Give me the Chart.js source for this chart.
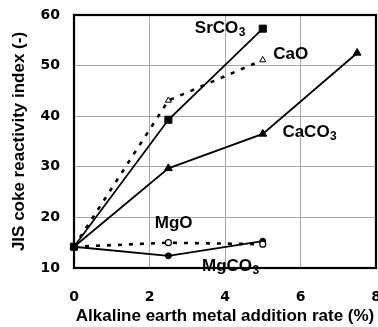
<!DOCTYPE html>
<html>
<head>
<meta charset="utf-8">
<script src="https://cdn.jsdelivr.net/npm/chart.js@4/dist/chart.umd.min.js"></script>
<style>
  html, body { margin: 0; padding: 0; background: #fff; overflow: hidden; }
  #wrap { width: 378px; height: 327px; overflow: hidden; }
  #c { display: block; }
</style>
</head>
<body>
<div id="wrap"><canvas id="c" width="382" height="327"></canvas></div>
<script>
// ---- data ----
const additionRate = [0, 2.5, 5, 7.5];
const srco3 = [14.2, 39.3, 57.3];
const cao = [14.2, 43.1, 51.1];
const caco3 = [14.2, 29.7, 36.5, 52.5];
const mgo = [14.2, 15.0, 14.7];
const mgco3 = [14.2, 12.4, 15.3];
const xTicks = [0, 2, 4, 6, 8];
const yTicks = [10, 20, 30, 40, 50, 60];

// series name labels (main text, subscript, anchor in data units)
const labelMain = ['SrCO', 'CaO', 'CaCO', 'MgO', 'MgCO'];
const labelSub = ['3', '', '3', '', '3'];
const labelAtX = [3.2, 5.28, 5.52, 2.14, 3.39];
const labelAtY = [56.4, 51.3, 35.85, 17.85, 9.4];

const pts = arr => arr.map((v, i) => ({ x: additionRate[i], y: v }));

const frame = {
  id: 'frame',
  beforeDatasetsDraw(chart) {
    const a = chart.chartArea, ctx = chart.ctx;
    ctx.save();
    ctx.strokeStyle = '#000';
    ctx.lineWidth = 2.2;
    ctx.strokeRect(a.left, a.top, a.right - a.left, a.bottom - a.top);
    ctx.restore();
  }
};

const names = {
  id: 'names',
  afterDatasetsDraw(chart) {
    const ctx = chart.ctx, xs = chart.scales.x, ys = chart.scales.y;
    ctx.save();
    ctx.fillStyle = '#000';
    ctx.textBaseline = 'alphabetic';
    ctx.textAlign = 'left';
    for (let i = 0; i < labelMain.length; i++) {
      const px = xs.getPixelForValue(labelAtX[i]);
      const py = ys.getPixelForValue(labelAtY[i]);
      ctx.font = 'bold 17px "Liberation Sans", Arial, sans-serif';
      ctx.fillText(labelMain[i], px, py);
      const w = ctx.measureText(labelMain[i]).width;
      if (labelSub[i]) {
        ctx.font = 'bold 12px "Liberation Sans", Arial, sans-serif';
        ctx.fillText(labelSub[i], px + w + 0.5, py + 3);
      }
    }
    ctx.restore();
  }
};

const common = { borderColor: '#000', pointBorderColor: '#000', clip: false, tension: 0 };

new Chart(document.getElementById('c'), {
  type: 'scatter',
  data: {
    datasets: [
      Object.assign({}, common, { label: 'CaCO3', data: pts(caco3), showLine: true, borderWidth: 1.8,
        pointStyle: 'triangle', pointRadius: 4.5, pointBackgroundColor: '#000', pointBorderWidth: 1 }),
      Object.assign({}, common, { label: 'CaO', data: pts(cao), showLine: true, borderWidth: 2.6, borderDash: [4, 7],
        pointStyle: 'triangle', pointRadius: 3.5, pointBackgroundColor: '#fff', pointBorderWidth: 1 }),
      Object.assign({}, common, { label: 'MgO', data: pts(mgo), showLine: true, borderWidth: 2.6, borderDash: [4, 7],
        pointStyle: 'circle', pointRadius: 3, pointBackgroundColor: '#fff', pointBorderWidth: 1.2 }),
      Object.assign({}, common, { label: 'MgCO3', data: pts(mgco3), showLine: true, borderWidth: 1.8,
        pointStyle: 'circle', pointRadius: 3, pointBackgroundColor: '#000', pointBorderWidth: 1 }),
      Object.assign({}, common, { label: 'SrCO3', data: pts(srco3), showLine: true, borderWidth: 1.8,
        pointStyle: 'rect', pointRadius: 5, pointBackgroundColor: '#000', pointBorderWidth: 1 })
    ]
  },
  options: {
    responsive: false,
    animation: false,
    devicePixelRatio: 1,
    layout: { padding: { top: 15, right: 2, left: 0, bottom: 0 } },
    plugins: { legend: { display: false }, tooltip: { enabled: false } },
    scales: {
      x: {
        type: 'linear', min: 0, max: 8,
        afterBuildTicks: s => { s.ticks = xTicks.map(v => ({ value: v })); },
        afterFit: s => { s.height = 59; s.paddingLeft = 0; s.paddingRight = 0; },
        grid: { color: '#a8a8a8', lineWidth: 1, drawTicks: false },
        border: { display: false },
        ticks: { color: '#000', padding: 21, maxRotation: 0, autoSkip: false,
          font: { family: '"DejaVu Sans"', weight: 'bold', size: 14 } },
        title: { display: true, text: 'Alkaline earth metal addition rate (%)', color: '#000',
          padding: { top: 0, bottom: 0 },
          font: { family: '"Liberation Sans", Arial', weight: 'bold', size: 17 } }
      },
      y: {
        type: 'linear', min: 10, max: 60,
        afterBuildTicks: s => { s.ticks = yTicks.map(v => ({ value: v })); },
        afterFit: s => { s.width = 74; s.paddingTop = 0; s.paddingBottom = 0; },
        grid: { color: '#a8a8a8', lineWidth: 1, drawTicks: false },
        border: { display: false },
        ticks: { color: '#000', padding: 14, autoSkip: false,
          font: { family: '"DejaVu Sans"', weight: 'bold', size: 14 } },
        title: { display: true, text: 'JIS coke reactivity index (-)', color: '#000',
          padding: { top: 9, bottom: 0 },
          font: { family: '"Liberation Sans", Arial', weight: 'bold', size: 17 } }
      }
    }
  },
  plugins: [frame, names]
});
</script>
</body>
</html>
